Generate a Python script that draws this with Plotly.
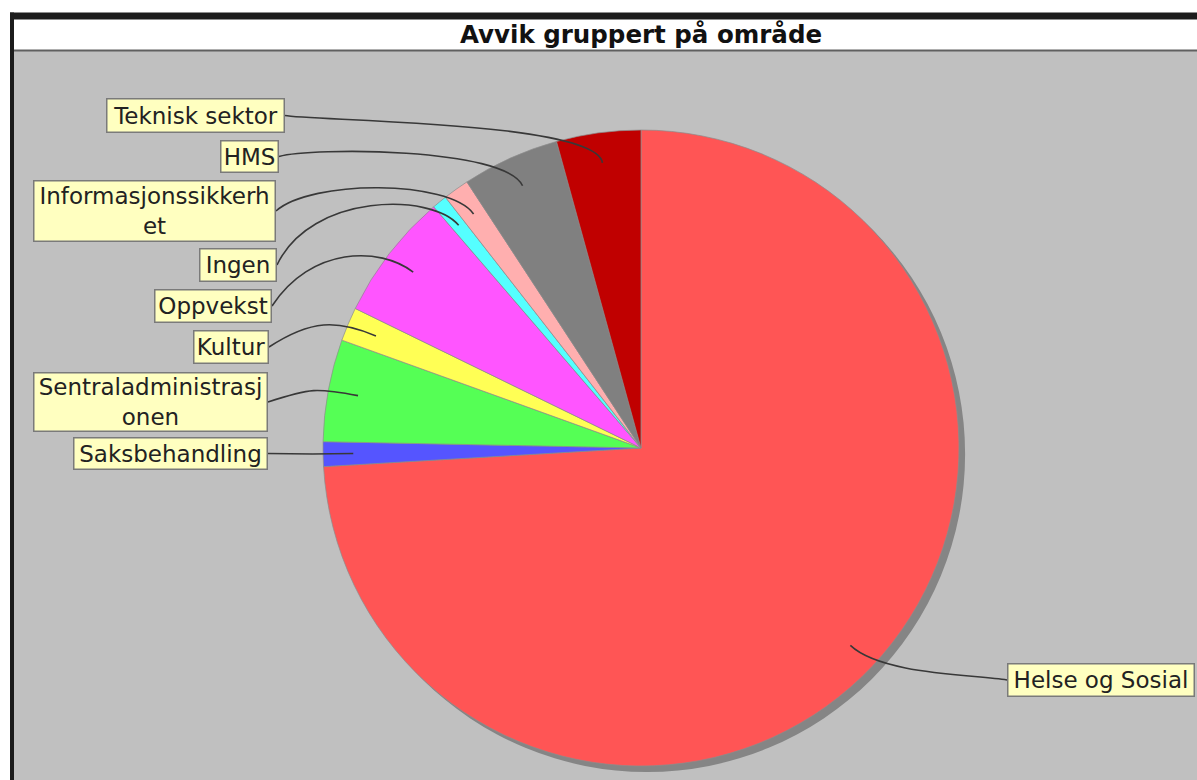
import math
import plotly.graph_objects as go

# ---------------- data ----------------
categories = ["Helse og Sosial", "Saksbehandling", "Sentraladministrasjonen", "Kultur",
              "Oppvekst", "Ingen", "Informasjonssikkerhet", "HMS", "Teknisk sektor"]
values = [74.06, 1.25, 5.19, 1.72, 6.47, 0.76, 1.32, 4.94, 4.28]   # share in %
label_texts = ["Helse og Sosial", "Saksbehandling", "Sentraladministrasj<br>onen", "Kultur",
               "Oppvekst", "Ingen", "Informasjonssikkerh<br>et", "HMS", "Teknisk sektor"]
colors = ["#FF5555", "#5555FF", "#55FF55", "#FFFF55", "#FF55FF",
          "#55FFFF", "#FFAFAF", "#808080", "#C00000"]
title_text = "Avvik gruppert på område"

# ---------------- layout geometry (pixels) ----------------
W, H = 1197, 780
cx, cy, R = 641, 448, 318
SH = 6                       # shadow offset
LINK_R = 0.905 * R           # where the link line ends inside the slice
ELBOW_R = 330                # link ellipse radius
# label boxes: (left, right, top, bottom) in pixels, same order as categories
boxes = [(1007, 1195, 663, 697), (73, 268, 437, 470), (33, 268, 372, 432), (193, 269, 330, 364),
         (154, 272, 289, 323), (199, 277, 248, 282), (33, 276, 180, 242), (220, 279, 140, 173),
         (106, 285, 98, 133)]


def fx(x):
    return x / W


def fy(y):
    return 1 - y / H


fig = go.Figure()

# shadow
fig.add_trace(go.Pie(
    values=[1], labels=["shadow"], marker=dict(colors=["#858585"]),
    domain=dict(x=[fx(cx - R + SH), fx(cx + R + SH)], y=[fy(cy + R + SH), fy(cy - R + SH)]),
    textinfo="none", hoverinfo="skip", showlegend=False, sort=False,
))

fig.add_trace(go.Pie(
    labels=categories, values=values, sort=False, direction="clockwise", rotation=0,
    marker=dict(colors=colors, line=dict(color="#8c8c8c", width=0.7)),
    domain=dict(x=[fx(cx - R), fx(cx + R)], y=[fy(cy + R), fy(cy - R)]),
    textinfo="none", hoverinfo="label+percent", showlegend=False,
))

shapes = [
    # plot background
    dict(type="rect", xref="paper", yref="paper", x0=fx(14), x1=1, y0=0, y1=fy(50),
         fillcolor="#C0C0C0", line=dict(width=0), layer="below"),
    # title band
    dict(type="rect", xref="paper", yref="paper", x0=fx(14), x1=1, y0=fy(50), y1=fy(19),
         fillcolor="#FFFFFF", line=dict(width=0), layer="below"),
    # separator
    dict(type="line", xref="paper", yref="paper", x0=fx(14), x1=1, y0=fy(50.5), y1=fy(50.5),
         line=dict(color="#606060", width=2), layer="below"),
    # black frame top and left
    dict(type="rect", xref="paper", yref="paper", x0=fx(10), x1=1, y0=fy(19.5), y1=fy(12.5),
         fillcolor="#1c1c1c", line=dict(width=0), layer="below"),
    dict(type="rect", xref="paper", yref="paper", x0=fx(10), x1=fx(14), y0=0, y1=fy(12.5),
         fillcolor="#1c1c1c", line=dict(width=0), layer="below"),
]

annotations = []
total = sum(values)
start = 0.0
for i, v in enumerate(values):
    ang = v / total * 360.0
    mid = math.radians(start + ang / 2)
    start += ang
    lx, ly = cx + LINK_R * math.sin(mid), cy - LINK_R * math.cos(mid)
    ex, ey = cx + ELBOW_R * math.sin(mid), cy - ELBOW_R * math.cos(mid)
    left, right, top, bottom = boxes[i]
    ty = (top + bottom) / 2
    if left > cx:            # right-hand label
        tx = left
        ax = cx + ELBOW_R
    else:
        tx = right
        ax = cx - ELBOW_R
    path = (f"M {fx(tx)},{fy(ty)} C {fx(ax)},{fy(ey)} {fx(ex)},{fy(ey)} {fx(lx)},{fy(ly)}")
    shapes.append(dict(type="path", xref="paper", yref="paper", path=path,
                       line=dict(color="#383838", width=1.6)))
    annotations.append(dict(
        text=label_texts[i], xref="paper", yref="paper",
        x=fx((left + right) / 2), y=fy(ty), xanchor="center", yanchor="middle",
        showarrow=False, align="center",
        width=right - left - 3, height=bottom - top - 3,
        bgcolor="#FFFFC0", bordercolor="#7a7a7a", borderwidth=1.5, borderpad=0,
        font=dict(family="DejaVu Sans", size=23, color="#222222"),
    ))

annotations.append(dict(
    text=title_text, xref="paper", yref="paper", x=fx(641), y=fy(34.5),
    xanchor="center", yanchor="middle", showarrow=False,
    font=dict(family="DejaVu Sans", size=24.5, color="#111111", weight="bold"),
))

fig.update_layout(
    width=W, height=H, margin=dict(l=0, r=0, t=0, b=0),
    paper_bgcolor="#FFFFFF", plot_bgcolor="#FFFFFF",
    shapes=shapes, annotations=annotations, showlegend=False,
)

fig.write_html("out.html", config={"displayModeBar": False},
               post_script="document.body.style.margin='0';document.body.style.overflow='hidden';")
